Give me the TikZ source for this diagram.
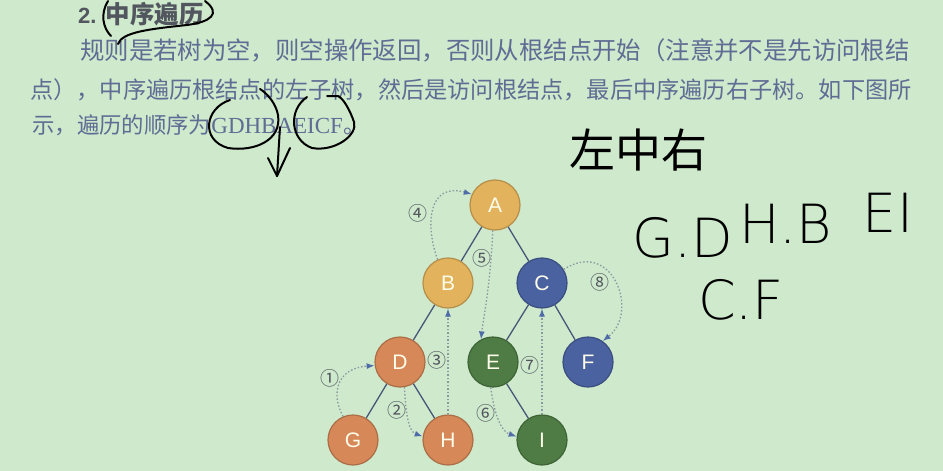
\documentclass[tikz,border=0pt]{standalone}
\usepackage{fontspec}
\setmainfont{Liberation Serif}
\setsansfont{Liberation Sans}
\newfontfamily\cjk{Noto Sans CJK SC}
\newfontfamily\handfont{DejaVu Sans ExtraLight}
\usetikzlibrary{arrows.meta}

\definecolor{paper}{RGB}{206,233,204}
\definecolor{bodyink}{RGB}{96,108,148}
\definecolor{titlegray}{RGB}{82,86,94}
\definecolor{gold}{RGB}{226,178,92}
\definecolor{rust}{RGB}{214,136,88}
\definecolor{navy}{RGB}{74,98,160}
\definecolor{moss}{RGB}{78,124,68}
\definecolor{branchblue}{RGB}{72,86,120}
\definecolor{tipblue}{RGB}{80,108,168}
\definecolor{dotgray}{RGB}{140,152,160}

\tikzset{
  treenode/.style={circle, fill=#1, draw=#1!80!black, line width=1.2pt,
    minimum size=50pt, inner sep=0pt, text=white!92!yellow,
    font=\sffamily\fontsize{21}{21}\selectfont},
  branch/.style={draw=branchblue, line width=1.3pt},
  visit/.style={dotgray, line width=1.3pt, dash pattern=on 1.5pt off 2pt,
    -{Latex[length=8pt,width=6pt,color=tipblue]}},
  stepno/.style={text=titlegray, font=\cjk\fontsize{19}{19}\selectfont, inner sep=0pt},
  pen/.style={black, line width=2pt, line cap=round, line join=round},
  handword/.style={inner sep=0pt, font=\handfont\fontsize{54}{54}\selectfont},
}

\begin{document}
\begin{tikzpicture}[x=1pt, y=-1pt]
  % page
  \fill[paper] (0,0) rectangle (943,471);
  \useasboundingbox (0,0) rectangle (943,471);
  % heading and paragraph
  \node[anchor=west, text=titlegray, inner sep=0pt] (title) at (78,14)
    {\sffamily\bfseries\fontsize{22}{22}\selectfont 2.\hspace{9pt}\cjk\fontsize{24.5}{24.5}\selectfont 中序遍历};
  \node[anchor=west, text=bodyink, inner sep=0pt] (line1) at (80,50)
    {\cjk\fontsize{24.4}{24.4}\selectfont 规则是若树为空，则空操作返回，否则从根结点开始（注意并不是先访问根结};
  \node[anchor=west, text=bodyink, inner sep=0pt] (line2) at (30,90)
    {\cjk\fontsize{23.2}{23.2}\selectfont 点），中序遍历根结点的左子树，然后是访问根结点，最后中序遍历右子树。如下图所};
  \node[anchor=west, text=bodyink, inner sep=0pt] (line3) at (32,125)
    {\cjk\fontsize{22.4}{22.4}\selectfont 示，遍历的顺序为{\rmfamily\fontsize{23}{23}\selectfont GDHBAEICF}。};

  % tree
  \node[treenode=gold] (A) at (495,205) {A};
  \node[treenode=gold] (B) at (448,283) {B};
  \node[treenode=navy] (C) at (542,283) {C};
  \node[treenode=rust] (D) at (400,362) {D};
  \node[treenode=moss] (E) at (493,362) {E};
  \node[treenode=navy] (F) at (588,362) {F};
  \node[treenode=rust] (G) at (353,440) {G};
  \node[treenode=rust] (H) at (448,440) {H};
  \node[treenode=moss] (I) at (542,440) {I};
  \draw[branch] (A) -- (B);
  \draw[branch] (A) -- (C);
  \draw[branch] (B) -- (D);
  \draw[branch] (C) -- (E);
  \draw[branch] (C) -- (F);
  \draw[branch] (D) -- (G);
  \draw[branch] (D) -- (H);
  \draw[branch] (E) -- (I);

  % visiting order
  \draw[visit] (G.113) .. controls (330,392) and (338,368) .. (D.188);
  \draw[visit] (D.-80) .. controls (406,420) and (410,432) .. (H.172);
  \draw[visit] (H.north) -- (B.south);
  \draw[visit] (B.114) .. controls (425,225) and (428,182) .. (A.155);
  \draw[visit] (A.-95) .. controls (490,290) and (483,320) .. (E.118);
  \draw[visit] (E.-95) .. controls (495,420) and (503,432) .. (I.172);
  \draw[visit] (I.north) -- (C.south);
  \draw[visit] (C.32) .. controls (612,238) and (640,312) .. (F.55);
  \node[stepno] (s1) at (330,378) {①};
  \node[stepno] (s2) at (397,410) {②};
  \node[stepno] (s3) at (437,360) {③};
  \node[stepno] (s4) at (418,213) {④};
  \node[stepno] (s5) at (482,258) {⑤};
  \node[stepno] (s6) at (486,413) {⑥};
  \node[stepno] (s7) at (530,365) {⑦};
  \node[stepno] (s8) at (600,282) {⑧};

  % pen marks
  \draw[pen] (108,1) .. controls (100,14) and (103,28) .. (111,36);
  \draw[pen] (118,44) .. controls (122,32) and (150,29) .. (187,25)
    .. controls (210,22) and (222,14) .. (205,1);
  \draw[pen] (230,100) .. controls (205,108) and (200,140) .. (228,148)
    .. controls (255,152) and (282,140) .. (278,115)
    .. controls (276,104) and (268,94) .. (260,89);
  \draw[pen] (307,97) .. controls (288,110) and (290,140) .. (312,148)
    .. controls (335,152) and (358,135) .. (354,122)
    .. controls (350,110) and (343,98) .. (338,96) -- (327,96);
  \draw[pen] (280,127) -- (277,176);
  \draw[pen] (290,148) -- (277,176) -- (268,158);
  \node[inner sep=0pt] (rule) at (638,150)
    {\cjk\fontsize{46}{46}\selectfont 左中右};
  \node[handword] (ordGD) at (683,238) {G.D};
  \node[handword] (ordHB) at (786,224) {H.B};
  \node[handword] (ordEI) at (888,213) {EI};
  \node[handword] (ordCF) at (741,300) {C.F};
\end{tikzpicture}
\end{document}
